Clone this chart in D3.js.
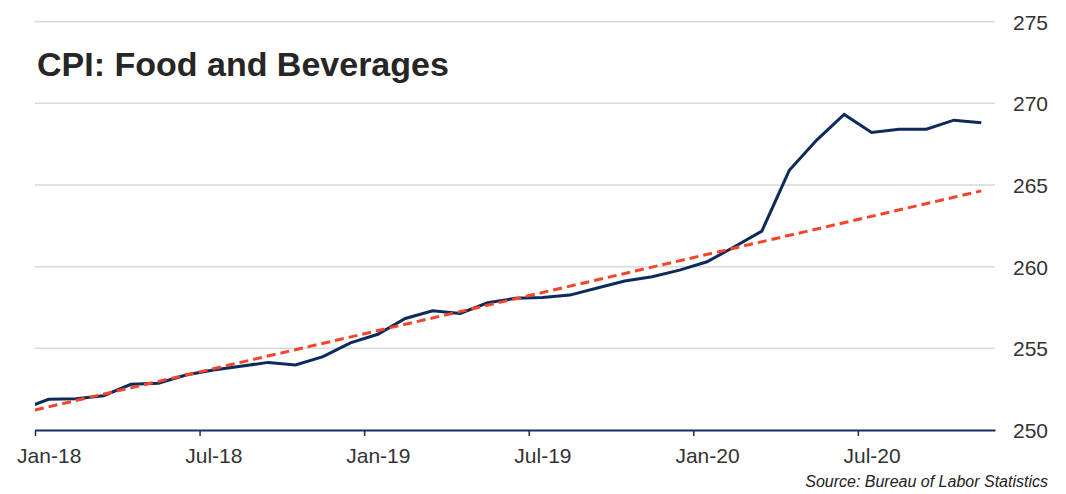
<!DOCTYPE html>
<html>
<head>
<meta charset="utf-8">
<script src="https://cdn.jsdelivr.net/npm/d3@7"></script>
<style>
  html, body { margin: 0; padding: 0; background: #ffffff; }
  svg { display: block; font-family: "Liberation Sans", Arial, sans-serif; }
</style>
</head>
<body>
<svg id="chart" width="1066" height="494"></svg>
<script>
// Month categories (Dec-17 is only partly visible at the left edge)
const months = ["Dec-17",
  "Jan-18","Feb-18","Mar-18","Apr-18","May-18","Jun-18","Jul-18","Aug-18","Sep-18","Oct-18","Nov-18","Dec-18",
  "Jan-19","Feb-19","Mar-19","Apr-19","May-19","Jun-19","Jul-19","Aug-19","Sep-19","Oct-19","Nov-19","Dec-19",
  "Jan-20","Feb-20","Mar-20","Apr-20","May-20","Jun-20","Jul-20","Aug-20","Sep-20","Oct-20","Nov-20"];

// CPI: Food and Beverages index values
const cpiValues = [251.26,
  251.88, 251.92, 252.10, 252.80, 252.86, 253.37, 253.67, 253.90, 254.14, 253.98, 254.49, 255.34,
  255.86, 256.83, 257.30, 257.14, 257.79, 258.06, 258.12, 258.26, 258.69, 259.12, 259.38, 259.79,
  260.30, 261.22, 262.18, 265.90, 267.75, 269.32, 268.22, 268.42, 268.42, 268.97, 268.81];

// Linear trend line end points
const trendMonths = ["Dec-17", "Nov-20"];
const trendValues = [251.03, 264.64];

// Axis ticks
const xTickLabels = ["Jan-18", "Jul-18", "Jan-19", "Jul-19", "Jan-20", "Jul-20"];
const yTicks = [250, 255, 260, 265, 270, 275];

const chartTitle = "CPI: Food and Beverages";
const sourceText = "Source: Bureau of Labor Statistics";

(function () {
  const svg = d3.select("#chart");
  const pLeft = 35, pRight = 995, pTop = 21.7, pBottom = 430;
  const firstVisible = months.indexOf("Jan-18");
  const nVisible = months.length - firstVisible;

  // month index relative to Jan-18; each month occupies one band, point at band centre
  const x = d3.scaleLinear().domain([0, nVisible]).range([pLeft, pRight]);
  const band = x(1) - x(0);
  const xm = m => x(months.indexOf(m) - firstVisible + 0.5);
  const y = d3.scaleLinear().domain([250, 275]).range([pBottom, pTop]);

  svg.append("defs").append("clipPath").attr("id", "plotclip")
    .append("rect").attr("x", pLeft).attr("y", 0).attr("width", pRight - pLeft).attr("height", 494);

  // gridlines
  svg.append("g").selectAll("line").data(yTicks.filter(t => t !== 250)).join("line")
    .attr("x1", pLeft).attr("x2", pRight)
    .attr("y1", d => y(d)).attr("y2", d => y(d))
    .attr("stroke", "#d9d9d9").attr("stroke-width", 1.5);

  // right-side value labels
  const yAxis = d3.axisRight(y).tickValues(yTicks).tickSize(0).tickPadding(18);
  const yg = svg.append("g").attr("transform", `translate(${pRight},0)`).call(yAxis);
  yg.select(".domain").remove();
  yg.selectAll("text")
    .attr("font-family", "Liberation Sans, Arial, sans-serif")
    .attr("font-size", 21).attr("fill", "#333333").attr("dy", "0.36em");

  // x axis
  const tickIdx = xTickLabels.map(l => months.indexOf(l) - firstVisible);
  const xAxis = d3.axisBottom(x).tickValues(tickIdx)
    .tickFormat(i => months[i + firstVisible]).tickSize(6).tickSizeOuter(0);
  const xg = svg.append("g").attr("transform", `translate(0,${pBottom})`).call(xAxis);
  xg.select(".domain").attr("stroke", "#15305e").attr("stroke-width", 2);
  xg.selectAll(".tick line").attr("stroke", "#15305e").attr("stroke-width", 1.5);
  xg.selectAll(".tick text")
    .attr("font-family", "Liberation Sans, Arial, sans-serif")
    .attr("font-size", 21).attr("fill", "#333333")
    .attr("x", band / 2).attr("y", 33).attr("dy", 0);

  // data line
  const plot = svg.append("g").attr("clip-path", "url(#plotclip)");
  const line = d3.line().x((d, i) => xm(months[i])).y(d => y(d));
  plot.append("path").datum(cpiValues)
    .attr("d", line)
    .attr("fill", "none").attr("stroke", "#0c2a5c").attr("stroke-width", 3)
    .attr("stroke-linejoin", "miter");

  // trend line
  const tline = d3.line().x((d, i) => xm(trendMonths[i])).y(d => y(d));
  plot.append("path").datum(trendValues)
    .attr("d", tline)
    .attr("fill", "none").attr("stroke", "#f4452b").attr("stroke-width", 3)
    .attr("stroke-dasharray", "9,5");

  // title
  svg.append("text").attr("x", 37).attr("y", 76)
    .attr("font-size", 34).attr("font-weight", "bold").attr("fill", "#262626")
    .text(chartTitle);

  // source
  svg.append("text").attr("x", 1048).attr("y", 487)
    .attr("text-anchor", "end").attr("font-size", 16).attr("font-style", "italic")
    .attr("fill", "#222222")
    .text(sourceText);
})();
</script>
</body>
</html>
